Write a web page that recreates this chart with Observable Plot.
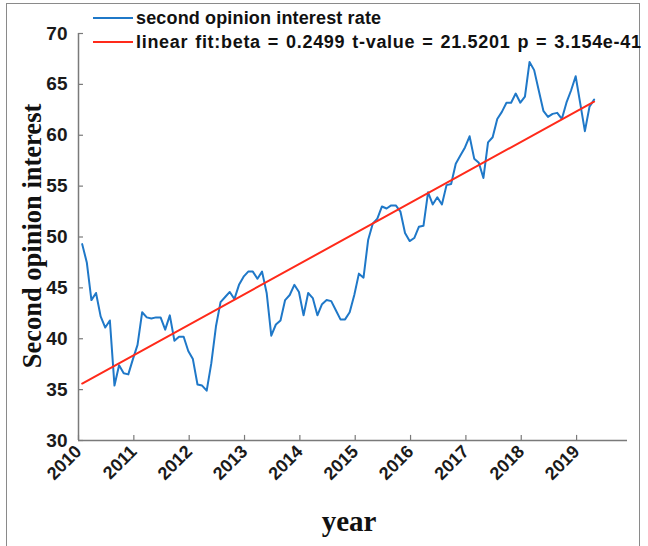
<!DOCTYPE html>
<html>
<head>
<meta charset="utf-8">
<script src="https://cdn.jsdelivr.net/npm/d3@7"></script>
<script src="https://cdn.jsdelivr.net/npm/@observablehq/plot@0.6"></script>
<style>
  html, body { margin: 0; padding: 0; background: #fff; overflow: hidden; }
  #wrap { position: relative; width: 648px; height: 546px; }
  #frame { position: absolute; left: 6px; top: 3px; width: 634px; height: 600px;
           border: 1.5px solid #8a8a8a; box-sizing: border-box; }
  #chart { position: absolute; left: 0; top: 0; }
  #chart svg text { font-weight: bold; fill: #1a1a1a; }
  .title { position: absolute; font-family: "Liberation Serif", "DejaVu Serif", serif;
           font-weight: bold; color: #111; white-space: nowrap; }
  #legend { position: absolute; left: 93px; top: 6px; font-family: "Liberation Sans", Arial, sans-serif;
            font-weight: bold; font-size: 18px; color: #111; }
  #legend .row { display: flex; align-items: center; height: 24px; white-space: nowrap; }
  #legend .sw { width: 40px; height: 2px; margin-right: 3px; }
</style>
</head>
<body>
<div id="wrap">
  <div id="frame"></div>
  <div id="chart"></div>
  <div id="legend"></div>
  <div class="title" id="ytitle"></div>
  <div class="title" id="xtitle"></div>
</div>
<script>
// Monthly "second opinion" interest, Jan 2010 .. Apr 2019
const startYear = 2010;
const interest = [
  49.3, 47.5, 43.8, 44.5, 42.2, 41.1, 41.8, 35.4, 37.4, 36.6, 36.5, 38.0,
  39.4, 42.6, 42.1, 42.0, 42.1, 42.1, 40.9, 42.3, 39.8, 40.2, 40.2, 38.8,
  38.0, 35.5, 35.4, 34.9, 37.6, 41.2, 43.6, 44.1, 44.6, 43.9, 45.3, 46.1,
  46.6, 46.6, 45.9, 46.6, 44.5, 40.3, 41.4, 41.8, 43.8, 44.3, 45.3, 44.6,
  42.3, 44.5, 44.0, 42.3, 43.4, 43.8, 43.7, 42.8, 41.9, 41.9, 42.6, 44.3,
  46.4, 46.0, 49.7, 51.3, 51.8, 53.0, 52.8, 53.1, 53.1, 52.5, 50.4, 49.6,
  49.9, 51.0, 51.1, 54.4, 53.2, 53.9, 53.2, 55.1, 55.2, 57.2, 58.0, 58.8,
  59.9, 57.7, 57.3, 55.8, 59.3, 59.8, 61.6, 62.3, 63.2, 63.2, 64.1, 63.2,
  63.8, 67.2, 66.4, 64.4, 62.4, 61.8, 62.1, 62.2, 61.6, 63.2, 64.4, 65.8,
  63.1, 60.4, 62.8, 63.5
];
// linear fit endpoints (first and last month)
const fitValues = [35.6, 63.3];
const xTicks = [2010, 2011, 2012, 2013, 2014, 2015, 2016, 2017, 2018, 2019];
const yTicks = [30, 35, 40, 45, 50, 55, 60, 65, 70];
const seriesNames = ["second opinion interest rate",
  "linear fit:beta = 0.2499 t-value = 21.5201 p = 3.154e-41"];
const seriesColors = ["#1f78c8", "#ff2a1a"];
const legendLetterSpacing = ["0.15px", "0.7px"];
const legendWordSpacing = ["0px", "1.3px"];
const axisTitles = { x: "year", y: "Second opinion interest" };

const monthX = i => startYear + (i + 0.8) / 12;
const data = interest.map((v, i) => ({ x: monthX(i), y: v }));
const fit = [{ x: monthX(0), y: fitValues[0] }, { x: monthX(interest.length - 1), y: fitValues[1] }];

const axisColor = "#7a7a7a";
const plot = Plot.plot({
  width: 648,
  height: 546,
  marginLeft: 78,
  marginRight: 21,
  marginTop: 33,
  marginBottom: 106,
  style: { fontFamily: "'Liberation Sans', Arial, sans-serif", background: "transparent", overflow: "visible" },
  x: { domain: [2010, 2019.92] },
  y: { domain: [30, 70] },
  marks: [
    Plot.ruleY([30], { stroke: axisColor, strokeWidth: 1.5 }),
    Plot.ruleX([2010], { stroke: axisColor, strokeWidth: 1.5 }),
    Plot.ruleX(xTicks, { x: d => d, y1: 30, y2: 30.5, stroke: axisColor, strokeWidth: 1.2 }),
    Plot.ruleY(yTicks, { y: d => d, x1: 2010, x2: 2010.09, stroke: axisColor, strokeWidth: 1.2 }),
    Plot.axisX(xTicks, { tickSize: 0, tickPadding: 8, tickRotate: -45, fontSize: 18, tickFormat: d => String(d), label: null }),
    Plot.axisY(yTicks, { tickSize: 0, tickPadding: 11, fontSize: 19, label: null }),
    Plot.line(data, { x: "x", y: "y", stroke: seriesColors[0], strokeWidth: 2 }),
    Plot.line(fit, { x: "x", y: "y", stroke: seriesColors[1], strokeWidth: 2 })
  ]
});
document.getElementById("chart").appendChild(plot);

const legend = document.getElementById("legend");
seriesNames.forEach((name, i) => {
  const row = document.createElement("div");
  row.className = "row";
  const sw = document.createElement("div");
  sw.className = "sw";
  sw.style.background = seriesColors[i];
  const t = document.createElement("span");
  t.textContent = name;
  t.style.letterSpacing = legendLetterSpacing[i];
  t.style.wordSpacing = legendWordSpacing[i];
  row.appendChild(sw); row.appendChild(t);
  legend.appendChild(row);
});

const yt = document.getElementById("ytitle");
yt.textContent = axisTitles.y;
yt.style.fontSize = "26.5px";
yt.style.left = "32px"; yt.style.top = "236px";
yt.style.transform = "translate(-50%, -50%) rotate(-90deg)";
const xt = document.getElementById("xtitle");
xt.textContent = axisTitles.x;
xt.style.fontSize = "29px";
xt.style.left = "349px"; xt.style.top = "521px";
xt.style.transform = "translate(-50%, -50%)";
</script>
</body>
</html>
